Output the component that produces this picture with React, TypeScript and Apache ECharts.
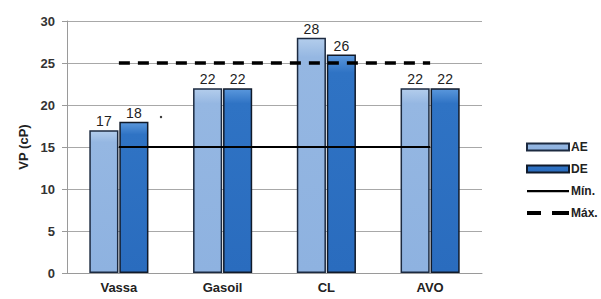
import React, { useEffect, useRef } from "react";
import * as echarts from "echarts";

const categories = ["Vassa", "Gasoil", "CL", "AVO"];
const aeValues = [17, 22, 28, 22];
const deValues = [18, 22, 26, 22];
const minValues = [15, 15, 15, 15];
const maxValues = [25, 25, 25, 25];
const yTicks = [0, 5, 10, 15, 20, 25, 30];

const minIcon = "path://M0,0h0.01v0.01h-0.01z M0,2.5h42v2.2h-42z M41.99,6.99h0.01v0.01h-0.01z";
const maxIcon = "path://M0,0h0.01v0.01h-0.01z M0,1.5h14v4h-14z M25,1.5h17v4h-17z M41.99,6.99h0.01v0.01h-0.01z";

export default function App() {
  const ref = useRef<HTMLDivElement>(null);
  useEffect(() => {
    const chart = echarts.init(ref.current!, null, { renderer: "svg" });
    const font = "Liberation Sans, Arial, sans-serif";
    chart.setOption({
      animation: false,
      backgroundColor: "#ffffff",
      grid: { left: 67, right: 119, top: 21, bottom: 26 },
      legend: {
        orient: "vertical",
        left: 521,
        top: 136,
        itemWidth: 42,
        itemHeight: 7,
        itemGap: 10,
        textStyle: { fontFamily: font, fontWeight: "bold", fontSize: 12, color: "#222", padding: [0, 0, 0, -3] },
        data: [
          { name: "AE", icon: "rect" },
          { name: "DE", icon: "rect" },
          { name: "Mín.", icon: minIcon },
          { name: "Máx.", icon: maxIcon },
        ],
      },
      xAxis: {
        type: "category",
        data: categories,
        axisLine: { lineStyle: { color: "#9a9a9a", width: 1 } },
        axisTick: { show: false },
        axisLabel: { fontFamily: font, fontWeight: "bold", fontSize: 13, color: "#222", margin: 8 },
      },
      yAxis: {
        type: "value",
        min: yTicks[0],
        max: yTicks[yTicks.length - 1],
        interval: 5,
        name: "VP (cP)",
        nameLocation: "middle",
        nameGap: 34,
        nameTextStyle: { fontFamily: font, fontWeight: "bold", fontSize: 13, color: "#222" },
        axisLine: { show: true, lineStyle: { color: "#9a9a9a" } },
        axisTick: { show: true, length: 5, lineStyle: { color: "#9a9a9a" } },
        axisLabel: { fontFamily: font, fontWeight: "bold", fontSize: 13, color: "#333", margin: 12 },
        splitLine: { lineStyle: { color: "#a8a8a8", width: 1 } },
      },
      series: [
        {
          name: "AE",
          type: "bar",
          data: aeValues,
          barGap: "3%",
          barCategoryGap: "43%",
          itemStyle: {
            color: new echarts.graphic.LinearGradient(0, 0, 0, 1, [
              { offset: 0, color: "#b3cdec" },
              { offset: 0.08, color: "#95b7e2" },
              { offset: 1, color: "#8eb2e0" },
            ]),
            borderColor: "#1c2a40",
            borderWidth: 1.5,
          },
          label: { show: true, position: "top", distance: 2, fontFamily: font, fontSize: 14, color: "#222" },
        },
        {
          name: "DE",
          type: "bar",
          data: deValues,
          itemStyle: {
            color: new echarts.graphic.LinearGradient(0, 0, 0, 1, [
              { offset: 0, color: "#5a97dc" },
              { offset: 0.08, color: "#2f73c4" },
              { offset: 1, color: "#2a6cbe" },
            ]),
            borderColor: "#101a2a",
            borderWidth: 1.5,
          },
          label: { show: true, position: "top", distance: 2, fontFamily: font, fontSize: 14, color: "#222" },
        },
        {
          name: "Mín.",
          type: "line",
          data: minValues,
          symbol: "none",
          lineStyle: { color: "#000", width: 2 },
          itemStyle: { color: "#000" },
          z: 5,
        },
        {
          name: "Máx.",
          type: "line",
          data: maxValues,
          symbol: "none",
          lineStyle: { color: "#000", width: 3.5, type: [11, 8] },
          itemStyle: { color: "#000" },
          z: 5,
        },
      ],
      graphic: [
        { type: "circle", shape: { cx: 161, cy: 117, r: 1.2 }, style: { fill: "#333" } },
      ],
    });
    return () => chart.dispose();
  }, []);
  return <div ref={ref} style={{ width: 601, height: 299, position: "absolute", left: 0, top: 0 }} />;
}
